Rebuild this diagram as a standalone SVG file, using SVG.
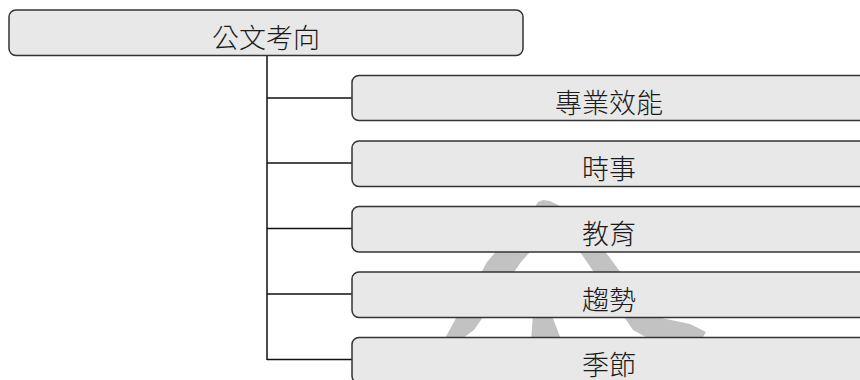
<svg xmlns="http://www.w3.org/2000/svg" width="860" height="380" viewBox="0 0 860 380">
  <style>
    .box { fill: #e8e8e8; stroke: #333333; stroke-width: 1.5; }
    .lbl { font-family: "Noto Sans CJK TC", "Noto Sans CJK SC", "Noto Sans", sans-serif; font-size: 27px; font-weight: 300; fill: #1a1a1a; text-anchor: middle; }
    .conn { fill: none; stroke: #111111; stroke-width: 1.5; }
    .wm { fill: #c2c2c2; }
  </style>
  <rect x="0" y="0" width="860" height="380" fill="#ffffff"/>
  <g id="watermark">
    <polygon class="wm" points="535,207 538,202 543,200 550,201 562,207 566,212 521,262 474,330 452,346 444,340 487,262 530,212"/>
    <polygon class="wm" points="552,212 572,208 613,262 652,316 690,324 706,332 700,342 662,346 633,330 587,262"/>
    <polygon class="wm" points="534,300 546,300 562,342 531,342"/>
  </g>
  <g id="connectors">
    <path class="conn" d="M267,55.5 V360"/>
    <path class="conn" d="M267,98 H352"/>
    <path class="conn" d="M267,163 H352"/>
    <path class="conn" d="M267,228.5 H352"/>
    <path class="conn" d="M267,294 H352"/>
    <path class="conn" d="M267,359.5 H352"/>
  </g>
  <g id="root">
    <rect class="box" x="9" y="10" width="514" height="45.5" rx="7"/>
    <text class="lbl" x="266" y="48">公文考向</text>
  </g>
  <g id="n1">
    <rect class="box" x="352" y="75.5" width="514" height="45" rx="7"/>
    <text class="lbl" x="609" y="113">專業效能</text>
  </g>
  <g id="n2">
    <rect class="box" x="352" y="141" width="514" height="45.5" rx="7"/>
    <text class="lbl" x="609" y="178.5">時事</text>
  </g>
  <g id="n3">
    <rect class="box" x="352" y="206.5" width="514" height="45.5" rx="7"/>
    <text class="lbl" x="609" y="244">教育</text>
  </g>
  <g id="n4">
    <rect class="box" x="352" y="272" width="514" height="45.5" rx="7"/>
    <text class="lbl" x="609" y="309.5">趨勢</text>
  </g>
  <g id="n5">
    <rect class="box" x="352" y="337.5" width="514" height="45.5" rx="7"/>
    <text class="lbl" x="609" y="375">季節</text>
  </g>
</svg>
